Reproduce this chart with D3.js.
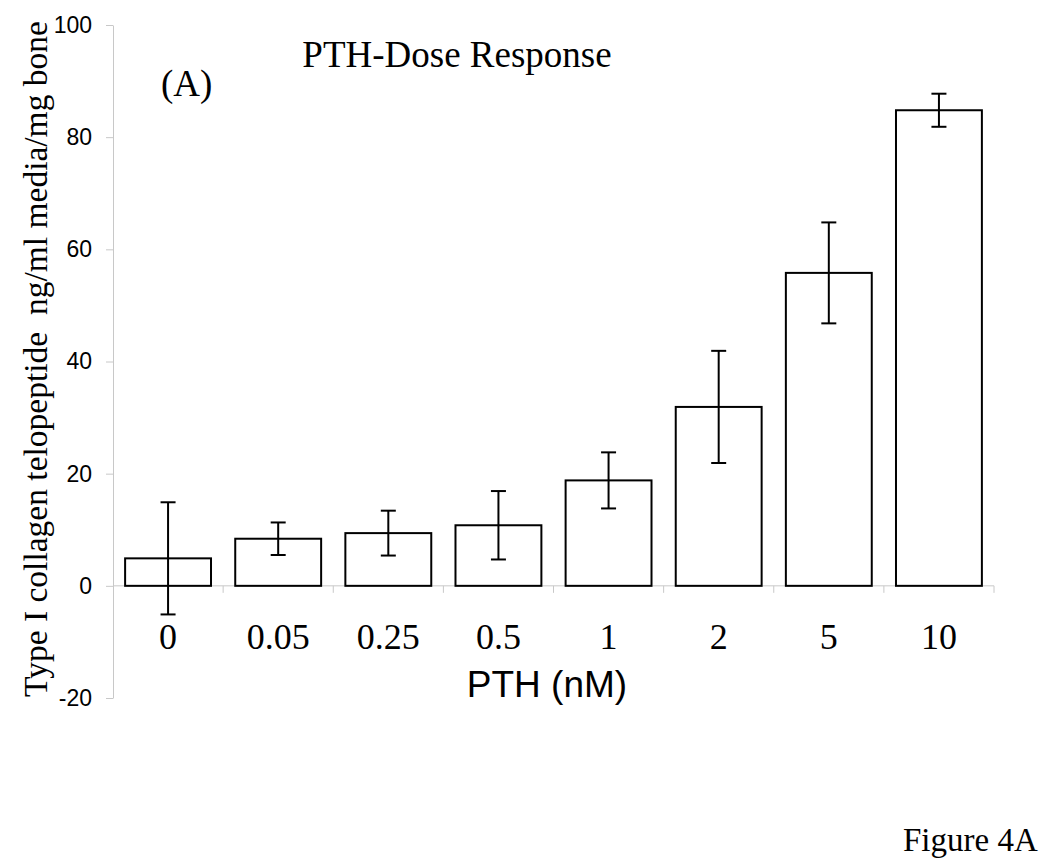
<!DOCTYPE html>
<html>
<head>
<meta charset="utf-8">
<script src="https://cdn.jsdelivr.net/npm/d3@7"></script>
<style>
  html, body { margin: 0; padding: 0; background: #fff; }
  svg { display: block; }
</style>
</head>
<body>
<svg id="chart" width="1050" height="866"></svg>
<script>
// ---- Data ----
const categories = ["0", "0.05", "0.25", "0.5", "1", "2", "5", "10"];
const means = [4.9, 8.4, 9.4, 10.8, 18.8, 31.9, 55.8, 84.8];
const errors = [10, 2.9, 4.0, 6.1, 5.0, 10.0, 9.0, 2.95];
const yTicks = [-20, 0, 20, 40, 60, 80, 100];

const titleText = "PTH-Dose Response";
const panelText = "(A)";
const xTitle = "PTH (nM)";
const yTitle = "Type I collagen telopeptide  ng/ml media/mg bone";
const figText = "Figure 4A";

// ---- Layout ----
const svg = d3.select("#chart");
const plotLeft = 113, plotRight = 994, plotTop = 25, plotBottom = 698;

const y = d3.scaleLinear().domain([-20, 100]).range([plotBottom, plotTop]);
const x = d3.scaleBand().domain(categories).range([plotLeft, plotRight])
  .paddingInner(0.22).paddingOuter(0.11);

const serif = "'Liberation Serif', 'Times New Roman', Times, serif";
const sans = "'Liberation Sans', Arial, Helvetica, sans-serif";
const axisColor = "#c8c8c8";

// Y axis
const yAxis = svg.append("g")
  .attr("transform", `translate(${plotLeft},0)`)
  .call(d3.axisLeft(y).tickValues(yTicks).tickSize(7).tickSizeOuter(0).tickPadding(14)
        .tickFormat(d => String(d)));
yAxis.select(".domain").attr("stroke", axisColor).attr("stroke-width", 1);
yAxis.selectAll(".tick line").attr("stroke", axisColor).attr("stroke-width", 1);
yAxis.selectAll(".tick text")
  .attr("font-family", sans).attr("font-size", 23).attr("fill", "#000");

// X axis line at zero with ticks at category boundaries
const y0 = y(0);
const xAxis = svg.append("g").attr("transform", `translate(0,${y0})`);
xAxis.append("line")
  .attr("x1", plotLeft).attr("x2", plotRight)
  .attr("y1", 0).attr("y2", 0)
  .attr("stroke", axisColor).attr("stroke-width", 1);
const boundaries = d3.range(categories.length + 1).map(i => x.range()[0] + i * x.step());
xAxis.selectAll("line.tk").data(boundaries.slice(1)).enter().append("line")
  .attr("class", "tk")
  .attr("x1", d => d).attr("x2", d => d)
  .attr("y1", 0).attr("y2", 7)
  .attr("stroke", axisColor).attr("stroke-width", 1);
xAxis.selectAll("text.cat").data(categories).enter().append("text")
  .attr("class", "cat")
  .attr("x", d => x(d) + x.bandwidth() / 2)
  .attr("y", 63)
  .attr("text-anchor", "middle")
  .attr("font-family", serif).attr("font-size", 36)
  .text(d => d);

// Bars
svg.append("g").selectAll("rect").data(categories).enter().append("rect")
  .attr("x", d => x(d))
  .attr("y", (d, i) => y(means[i]))
  .attr("width", x.bandwidth())
  .attr("height", (d, i) => y(0) - y(means[i]))
  .attr("fill", "#fff").attr("stroke", "#000").attr("stroke-width", 2);

// Error bars
const eb = svg.append("g").attr("stroke", "#000").attr("stroke-width", 2);
categories.forEach((c, i) => {
  const cx = x(c) + x.bandwidth() / 2;
  const hi = y(means[i] + errors[i]), lo = y(means[i] - errors[i]);
  eb.append("line").attr("x1", cx).attr("x2", cx).attr("y1", hi).attr("y2", lo);
  eb.append("line").attr("x1", cx - 7.5).attr("x2", cx + 7.5).attr("y1", hi).attr("y2", hi);
  eb.append("line").attr("x1", cx - 7.5).attr("x2", cx + 7.5).attr("y1", lo).attr("y2", lo);
});

// Texts
svg.append("text").attr("x", 457).attr("y", 67).attr("text-anchor", "middle")
  .attr("font-family", serif).attr("font-size", 37).text(titleText);
svg.append("text").attr("x", 161).attr("y", 96)
  .attr("font-family", serif).attr("font-size", 37).text(panelText);
svg.append("text").attr("x", 547).attr("y", 697).attr("text-anchor", "middle")
  .attr("font-family", sans).attr("font-size", 37).text(xTitle);
svg.append("text")
  .attr("transform", "translate(47,359) rotate(-90)")
  .attr("text-anchor", "middle")
  .style("white-space", "pre")
  .attr("font-family", serif).attr("font-size", 33.5).text(yTitle);
svg.append("text").attr("x", 903).attr("y", 851)
  .attr("font-family", serif).attr("font-size", 33).text(figText);
</script>
</body>
</html>
